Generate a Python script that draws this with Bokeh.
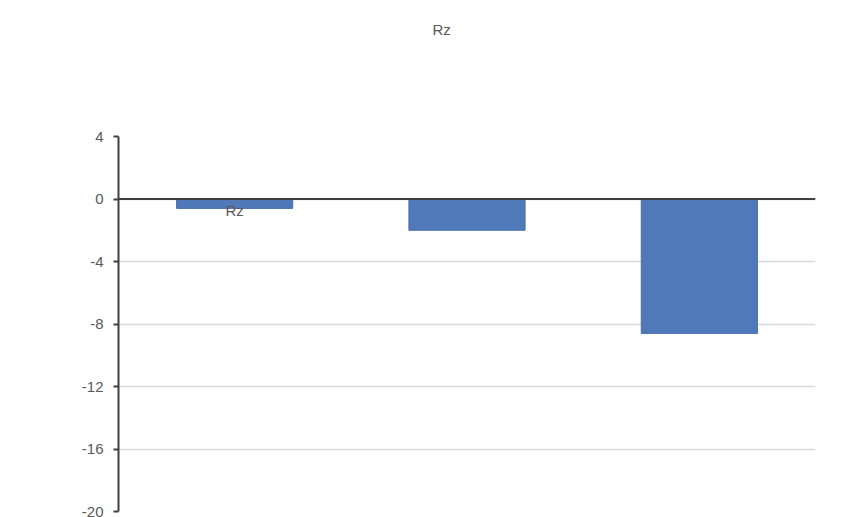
from bokeh.plotting import figure
from bokeh.models import Range1d, Span, Label, FixedTicker, Title
from bokeh.embed import file_html
from bokeh.resources import INLINE

# Data
categories = ["1", "2", "3"]
values = [-0.6, -2.0, -8.6]
y_ticks = [4, 0, -4, -8, -12, -16, -20]
y_tick_labels = ["4", "0", "-4", "-8", "-12", "-16", "-20"]
series_name = "Rz"

FONT = "Liberation Sans"
TEXT_COLOR = "#595959"

x_pos = [i + 0.5 for i in range(len(categories))]

p = figure(width=845, height=517, output_backend="svg", toolbar_location=None,
           x_range=Range1d(0, len(categories)), y_range=Range1d(-20, 4),
           min_border_left=118, min_border_right=30, min_border_top=0,
           min_border_bottom=6, title=None)
p.outline_line_color = None
p.background_fill_color = "white"
p.border_fill_color = "white"

# blank band between title and plotting area
p.add_layout(Title(text=" ", text_font_size="15px", standoff=80), "above")
# chart title
p.add_layout(Title(text=series_name, align="left", offset=314, text_font=FONT,
                   text_font_size="15px", text_font_style="normal",
                   text_color=TEXT_COLOR, standoff=0), "above")
# top padding above the title
p.add_layout(Title(text=" ", text_font_size="14px", standoff=0), "above")

p.vbar(x=x_pos, top=values, bottom=0, width=0.5, fill_color="#4f79b9",
       line_color="#4a6fa8", line_width=1)

p.xaxis.visible = False
p.xgrid.visible = False
p.ygrid.grid_line_color = "#d9d9d9"
p.ygrid.grid_line_width = 1.5
p.ygrid.ticker = FixedTicker(ticks=y_ticks)

ax = p.yaxis[0]
ax.ticker = FixedTicker(ticks=y_ticks)
ax.major_label_overrides = {t: s for t, s in zip(y_ticks, y_tick_labels)}
ax.axis_line_color = "#404040"
ax.axis_line_width = 2
ax.major_tick_line_color = "#404040"
ax.major_tick_line_width = 2
ax.major_tick_out = 5
ax.major_tick_in = 0
ax.minor_tick_out = 0
ax.minor_tick_in = 0
ax.major_label_text_font = FONT
ax.major_label_text_font_size = "15px"
ax.major_label_text_color = TEXT_COLOR
ax.major_label_standoff = 10

# zero line across the plot
p.add_layout(Span(location=0, dimension="width", line_color="#404040", line_width=2))

# series label sitting over the first bar
p.add_layout(Label(x=x_pos[0], y=0, y_offset=-20, text=series_name,
                   text_align="center", text_font=FONT, text_font_size="15px",
                   text_color=TEXT_COLOR))

open("out.html", "w").write(file_html(p, INLINE))
